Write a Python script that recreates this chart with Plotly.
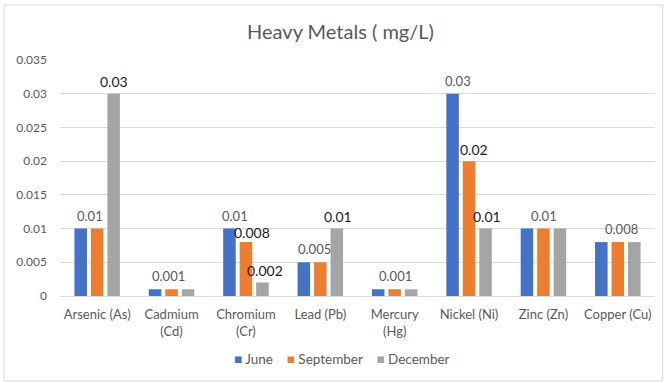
import plotly.graph_objects as go

categories = ["Arsenic (As)", "Cadmium<br>(Cd)", "Chromium<br>(Cr)", "Lead (Pb)",
              "Mercury<br>(Hg)", "Nickel (Ni)", "Zinc (Zn)", "Copper (Cu)"]
june = [0.01, 0.001, 0.01, 0.005, 0.001, 0.03, 0.01, 0.008]
september = [0.01, 0.001, 0.008, 0.005, 0.001, 0.02, 0.01, 0.008]
december = [0.03, 0.001, 0.002, 0.01, 0.001, 0.01, 0.01, 0.008]
series_names = ["June", "September", "December"]
y_ticks = [0, 0.005, 0.01, 0.015, 0.02, 0.025, 0.03, 0.035]
y_tick_labels = ["0", "0.005", "0.01", "0.015", "0.02", "0.025", "0.03", "0.035"]

# data labels: (category index, value, text)
labels_grey = [(0, 0.01, "0.01"), (1, 0.001, "0.001"), (2, 0.01, "0.01"),
               (3, 0.005, "0.005"), (4, 0.001, "0.001"), (5, 0.03, "0.03"),
               (6, 0.01, "0.01"), (7, 0.008, "0.008")]
labels_dark = [(0, 0.03, "0.03"), (2, 0.008, "0.008"), (2, 0.002, "0.002"),
               (3, 0.01, "0.01"), (5, 0.02, "0.02"), (5, 0.01, "0.01")]

# pixel offsets for label placement (styling)
grey_xshift = [-7, -3, -11, -6, 1, -11, 1, 4]
dark_xshift = [17, 6, 19, 18, 5, 18]

colors = {"June": "#4472C4", "September": "#ED7D31", "December": "#A5A5A5"}
font_family = "Lato, 'Open Sans', sans-serif"

fig = go.Figure()
for name, vals in zip(series_names, [june, september, december]):
    fig.add_trace(go.Bar(x=categories, y=vals, name=name, marker_color=colors[name],
                         marker_line_width=0, showlegend=False))

for (i, v, t), xs in zip(labels_grey, grey_xshift):
    fig.add_annotation(x=categories[i], y=v, text=t, showarrow=False, xshift=xs,
                       yshift=13, yanchor="middle",
                       font=dict(family=font_family, size=13, color="#595959"))
for (i, v, t), xs in zip(labels_dark, dark_xshift):
    ys = 10 if t == "0.008" else 12
    fig.add_annotation(x=categories[i], y=v, text=t, showarrow=False, xshift=xs,
                       yshift=ys, yanchor="middle",
                       font=dict(family=font_family, size=14, color="#1a1a1a"))

# legend drawn as text
legend_text = "&nbsp;&nbsp;&nbsp;&nbsp;".join(
    f"<span style='color:{colors[n]}'>■</span> {n}" for n in series_names)
fig.add_annotation(xref="paper", yref="paper", x=0.474, y=-0.267, xanchor="center",
                   yanchor="middle", text=legend_text, showarrow=False,
                   font=dict(family=font_family, size=13.5, color="#595959"))

fig.add_shape(type="rect", xref="paper", yref="paper", x0=-0.094, x1=1.013,
              y0=-0.360, y1=1.233, line=dict(color="#d9d9d9", width=1))

fig.update_layout(
    width=670, height=383,
    margin=dict(l=60, r=15, t=60, b=87),
    paper_bgcolor="white", plot_bgcolor="white",
    barmode="group", bargap=0.335, bargroupgap=0.24,
    showlegend=False,
    title=dict(text="Heavy Metals ( mg/L)", x=340.5 / 670, xref="container",
               xanchor="center", y=1 - 32 / 383, yanchor="middle",
               font=dict(family=font_family, size=20, color="#595959")),
    font=dict(family=font_family, size=12, color="#595959"),
    xaxis=dict(showgrid=False, showline=False, ticks="", ticklabelstandoff=9,
               tickfont=dict(size=13, color="#595959")),
    yaxis=dict(range=[0, 0.035], tickvals=y_ticks, ticktext=y_tick_labels,
               showgrid=True, gridcolor="#d9d9d9", gridwidth=1, zeroline=True,
               zerolinecolor="#d9d9d9", zerolinewidth=1, showline=False, ticks="",
               ticklabelstandoff=12, tickfont=dict(size=12, color="#595959")),
)

fig.write_html("out.html", config={"displayModeBar": False},
               post_script="document.body.style.margin='0';")
